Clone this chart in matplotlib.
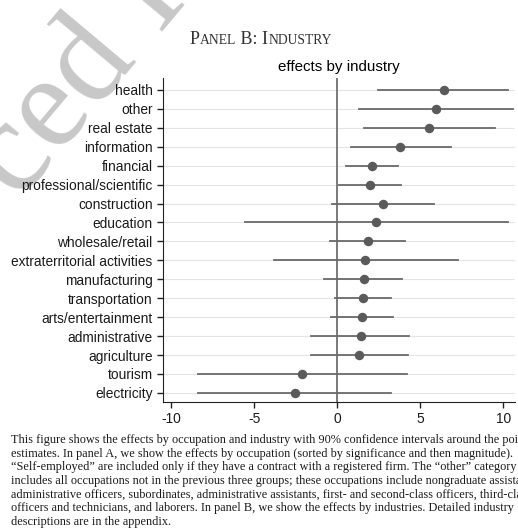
import matplotlib.pyplot as plt
from matplotlib.offsetbox import TextArea, HPacker, AnchoredOffsetbox

# point estimates and 90% confidence intervals, top row first
industries = ["health", "other", "real estate", "information", "financial",
              "professional/scientific", "construction", "education",
              "wholesale/retail", "extraterritorial activities", "manufacturing",
              "transportation", "arts/entertainment", "administrative",
              "agriculture", "tourism", "electricity"]
effects = [6.43, 5.93, 5.50, 3.78, 2.10, 1.98, 2.76, 2.34, 1.84, 1.68,
           1.58, 1.54, 1.48, 1.44, 1.30, -2.12, -2.56]
ci_low = [2.46, 1.30, 1.58, 0.84, 0.54, 0.08, -0.32, -5.55, -0.42, -3.82,
          -0.78, -0.16, -0.40, -1.56, -1.60, -8.40, -8.40]
ci_high = [10.30, 10.60, 9.48, 6.84, 3.68, 3.84, 5.84, 10.30, 4.06, 7.28,
           3.92, 3.24, 3.34, 4.34, 4.28, 4.20, 3.24]
xticks = [-10, -5, 0, 5, 10]

caption = [
    "This figure shows the effects by occupation and industry with 90% confidence intervals around the point",
    "estimates. In panel A, we show the effects by occupation (sorted by significance and then magnitude).",
    "\u201cSelf-employed\u201d are included only if they have a contract with a registered firm. The \u201cother\u201d category",
    "includes all occupations not in the previous three groups; these occupations include nongraduate assistants,",
    "administrative officers, subordinates, administrative assistants, first- and second-class officers, third-class",
    "officers and technicians, and laborers. In panel B, we show the effects by industries. Detailed industry",
    "descriptions are in the appendix.",
]

W, H = 518, 532
fig = plt.figure(figsize=(W / 100, H / 100), dpi=100)

# faint watermark behind everything
fig.text(-0.10, 0.585, "ced I", fontsize=96, family="Liberation Serif",
         color="#c8c8c8", rotation=50, zorder=-5, ha="left", va="bottom")

ax = fig.add_axes([163 / W, 1 - 402 / H, (515 - 163) / W, (402 - 78) / H])
ax.set_facecolor("none")

ypos = list(range(len(industries)))[::-1]
for y, e, lo, hi in zip(ypos, effects, ci_low, ci_high):
    ax.axhline(y, color="#e4e4e4", lw=0.8, zorder=0)
    ax.plot([lo, hi], [y, y], color="#6a6a6a", lw=1.3, zorder=2)
ax.plot(effects, ypos, "o", color="#5a5a5a", ms=5.8, zorder=3)
ax.axvline(0, color="#7a7a7a", lw=1.4, zorder=1)

ax.set_xlim(-10.5, 10.7)
ax.set_ylim(-0.48, len(industries) - 1 + 0.63)
ax.set_yticks(ypos)
ax.set_yticklabels(industries)
ax.set_xticks(xticks)
ax.set_xticklabels([str(t) for t in xticks])
ax.tick_params(labelsize=9.9, length=4, width=1, color="#222222",
               labelcolor="#1a1a1a")
for lbl in ax.get_xticklabels() + ax.get_yticklabels():
    lbl.set_family("Liberation Sans")
ax.spines["top"].set_visible(False)
ax.spines["right"].set_visible(False)
ax.spines["left"].set_color("#222222")
ax.spines["bottom"].set_color("#222222")
ax.set_title("effects by industry", fontsize=10.9, family="Liberation Sans",
             pad=5)

# small-caps panel header
big = dict(fontsize=13, family="Liberation Serif", color="#333333")
small = dict(fontsize=9.8, family="Liberation Serif", color="#333333")
parts = [("P", big), ("ANEL", small), (" B: I", big), ("NDUSTRY", small)]
hp = HPacker(children=[TextArea(t, textprops=p) for t, p in parts],
             align="baseline", sep=0, pad=0)
box = AnchoredOffsetbox(loc="lower left", child=hp, pad=0, borderpad=0,
                        frameon=False, bbox_to_anchor=(190 / W, 1 - 48 / H),
                        bbox_transform=fig.transFigure)
fig.add_artist(box)

for i, line in enumerate(caption):
    fig.text(11 / W, 1 - (440 + 13.7 * i) / H, line, fontsize=8.8,
             family="Liberation Serif", color="#1a1a1a", va="center",
             ha="left")

fig.savefig("out.png", dpi=100)
